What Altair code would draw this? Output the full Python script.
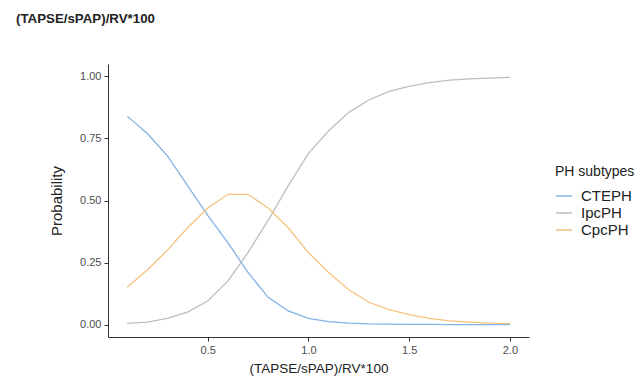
import altair as alt
import pandas as pd

x_vals = [0.1, 0.2, 0.3, 0.4, 0.5, 0.6, 0.7, 0.8, 0.9, 1.0,
          1.1, 1.2, 1.3, 1.4, 1.5, 1.6, 1.7, 1.8, 1.9, 2.0]
cteph = [0.84, 0.77, 0.68, 0.56, 0.44, 0.33, 0.21, 0.11, 0.055, 0.025,
         0.012, 0.006, 0.003, 0.002, 0.001, 0.001, 0.0, 0.0, 0.0, 0.0]
ipcph = [0.005, 0.01, 0.025, 0.05, 0.095, 0.175, 0.29, 0.42, 0.56, 0.69,
         0.78, 0.855, 0.905, 0.94, 0.96, 0.975, 0.985, 0.99, 0.993, 0.996]
cpcph = [0.15, 0.22, 0.30, 0.39, 0.47, 0.525, 0.525, 0.47, 0.39, 0.29,
         0.21, 0.14, 0.09, 0.06, 0.04, 0.025, 0.015, 0.01, 0.006, 0.004]
series = ["CTEPH", "IpcPH", "CpcPH"]
colors = ["#80B3E6", "#BEBEBE", "#F7C27F"]
title_text = "(TAPSE/sPAP)/RV*100"

rows = []
for name, vals in zip(series, [cteph, ipcph, cpcph]):
    for xv, yv in zip(x_vals, vals):
        rows.append({"x": xv, "p": yv, "type": name})
df = pd.DataFrame(rows)

FONT = "Liberation Sans"

lines = alt.Chart(df).mark_line(strokeWidth=1.3).encode(
    x=alt.X("x:Q", scale=alt.Scale(domain=[0.005, 2.095], nice=False, zero=False),
            axis=alt.Axis(values=[0.5, 1.0, 1.5, 2.0], format=".1f",
                          title=title_text, titleFontSize=13.5, titlePadding=6)),
    y=alt.Y("p:Q", scale=alt.Scale(domain=[-0.05, 1.05], nice=False, zero=False),
            axis=alt.Axis(values=[0, 0.25, 0.5, 0.75, 1.0], format=".2f",
                          title="Probability", titleFontSize=15, titlePadding=15)),
    color=alt.Color("type:N", scale=alt.Scale(domain=series, range=colors),
                    sort=series,
                    legend=alt.Legend(title="PH subtypes", orient="none",
                                      legendX=447, legendY=101,
                                      symbolType="stroke", symbolSize=256,
                                      symbolStrokeWidth=1.5, labelOffset=8,
                                      titleFont=FONT, titleFontSize=14,
                                      titleFontWeight="normal", titleColor="#222222",
                                      labelFont=FONT, labelFontSize=15,
                                      labelColor="#222222", rowPadding=-3,
                                      titlePadding=8)),
)

ttl = alt.Chart(pd.DataFrame({"t": [title_text]})).mark_text(
    align="left", baseline="middle", font=FONT, fontSize=13.3, fontWeight="bold",
    color="#222222"
).encode(x=alt.value(-92), y=alt.value(-45), text="t:N")

chart = alt.layer(lines, ttl).properties(
    width=421, height=273,
    autosize=alt.AutoSizeParams(type="none"),
    padding={"left": 100, "top": 56, "right": 106, "bottom": 45},
).configure_view(stroke=None).configure_axis(
    grid=False, domainColor="#333333", domainWidth=1,
    tickColor="#333333", tickSize=4, tickWidth=1,
    labelFont=FONT, labelFontSize=11, labelColor="#4D4D4D", labelPadding=3,
    titleFont=FONT, titleFontWeight="normal", titleColor="#222222",
)

chart.save("out.html", embed_options={"renderer": "svg", "actions": False})
